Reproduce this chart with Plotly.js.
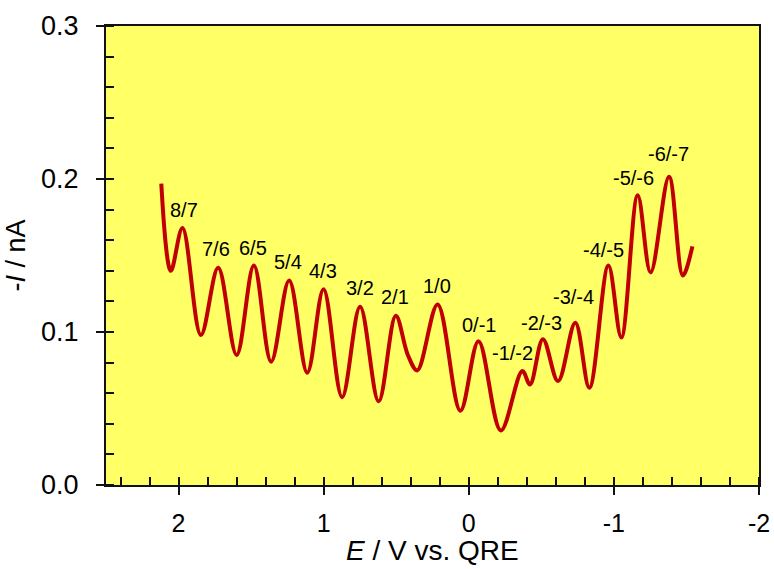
<!DOCTYPE html>
<html>
<head>
<meta charset="utf-8">
<script src="https://cdn.plot.ly/plotly-3.0.1.min.js"></script>
<style>html,body{margin:0;padding:0;background:#fff;}#chart{width:774px;height:569px;}</style>
</head>
<body>
<div id="chart"></div>
<script>
// Potential E (V vs. QRE) and current -I (nA)
const potential = [2.119, 2.053, 1.973, 1.846, 1.727, 1.600, 1.481, 1.362, 1.238, 1.113, 1.001, 0.873, 0.749, 0.621, 0.503, 0.420, 0.355, 0.215, 0.058, -0.067, -0.221, -0.369, -0.422, -0.511, -0.615, -0.734, -0.831, -0.962, -1.051, -1.164, -1.253, -1.380, -1.475, -1.541];
const current = [0.197, 0.140, 0.168, 0.098, 0.142, 0.085, 0.1435, 0.0806, 0.1336, 0.0734, 0.128, 0.0574, 0.1165, 0.0547, 0.1106, 0.085, 0.0749, 0.118, 0.0486, 0.094, 0.0357, 0.0745, 0.0657, 0.0953, 0.0679, 0.106, 0.0635, 0.1434, 0.0964, 0.1894, 0.139, 0.2015, 0.137, 0.156];

// Peak labels and their positions
const peakLabels = ["8/7", "7/6", "6/5", "5/4", "4/3", "3/2", "2/1", "1/0", "0/-1", "-1/-2", "-2/-3", "-3/-4", "-4/-5", "-5/-6", "-6/-7"];
const labelE = [1.964, 1.742, 1.490, 1.244, 1.007, 0.749, 0.509, 0.221, -0.067, -0.304, -0.503, -0.719, -0.927, -1.134, -1.377];
const labelI = [0.1796, 0.1544, 0.155, 0.1456, 0.1397, 0.1288, 0.123, 0.1299, 0.1047, 0.0861, 0.1058, 0.123, 0.1537, 0.2004, 0.2164];

const xTicks = [2, 1, 0, -1, -2];
const xTickText = ["2", "1", "0", "-1", "-2"];
const yTicks = [0, 0.1, 0.2, 0.3];
const yTickText = ["0.0", "0.1", "0.2", "0.3"];
const xTitle = "<i>E</i> / V vs. QRE";
const yTitle = "-<i>I</i> / nA";

const FONT = "Liberation Sans, Arial, sans-serif";
const xRange = [2.5, -2];
const yRange = [0, 0.3];

const traces = [
  {
    x: potential, y: current, type: "scatter", mode: "lines",
    line: {color: "#c00000", width: 4, shape: "spline", smoothing: 1},
    hoverinfo: "skip", showlegend: false
  },
  {
    x: [], y: [], xaxis: "x2", yaxis: "y2", type: "scatter", mode: "lines",
    showlegend: false, hoverinfo: "skip"
  }
];

const annotations = peakLabels.map((t, i) => ({
  x: labelE[i], y: labelI[i], xref: "x", yref: "y", text: t, showarrow: false,
  font: {family: FONT, size: 20, color: "#000"}, xanchor: "center", yanchor: "middle"
}));
annotations.push({
  x: 0.5, y: -0.143, xref: "paper", yref: "paper", text: xTitle, showarrow: false,
  font: {family: FONT, size: 28, color: "#000"}, xanchor: "center", yanchor: "middle"
});

const layout = {
  width: 774, height: 569,
  margin: {l: 106, r: 15, t: 26, b: 84},
  paper_bgcolor: "#ffffff",
  plot_bgcolor: "#ffff66",
  showlegend: false,
  font: {family: FONT, color: "#000"},
  xaxis: {
    range: xRange, tickvals: xTicks, ticktext: xTickText,
    ticks: "outside", ticklen: 8, tickwidth: 2, tickcolor: "#111",
    showline: true, linecolor: "#111", linewidth: 2, mirror: true,
    showgrid: false, zeroline: false,
    tickfont: {family: FONT, size: 25, color: "#000"},
    ticklabelstandoff: 7,
    minor: {dtick: 0.2, tick0: 0, ticks: "inside", ticklen: 8, tickwidth: 2, tickcolor: "#111", showgrid: false}
  },
  yaxis: {
    range: yRange, tickvals: yTicks, ticktext: yTickText,
    ticks: "outside", ticklen: 8, tickwidth: 2, tickcolor: "#111",
    showline: true, linecolor: "#111", linewidth: 2, mirror: true,
    showgrid: false, zeroline: false,
    tickfont: {family: FONT, size: 27, color: "#000"},
    ticklabelstandoff: 12,
    minor: {dtick: 0.02, tick0: 0, ticks: "inside", ticklen: 8, tickwidth: 2, tickcolor: "#111", showgrid: false},
    title: {text: yTitle, font: {family: FONT, size: 27, color: "#000"}, standoff: 8}
  },
  xaxis2: {
    overlaying: "x", range: xRange, tickvals: xTicks, ticks: "inside", ticklen: 8, tickwidth: 2,
    tickcolor: "#111", showticklabels: false, showgrid: false, zeroline: false, showline: false, side: "bottom"
  },
  yaxis2: {
    overlaying: "y", range: yRange, tickvals: yTicks, ticks: "inside", ticklen: 8, tickwidth: 2,
    tickcolor: "#111", showticklabels: false, showgrid: false, zeroline: false, showline: false, side: "left"
  },
  annotations: annotations
};

Plotly.newPlot("chart", traces, layout, {staticPlot: true, displayModeBar: false});
</script>
</body>
</html>
